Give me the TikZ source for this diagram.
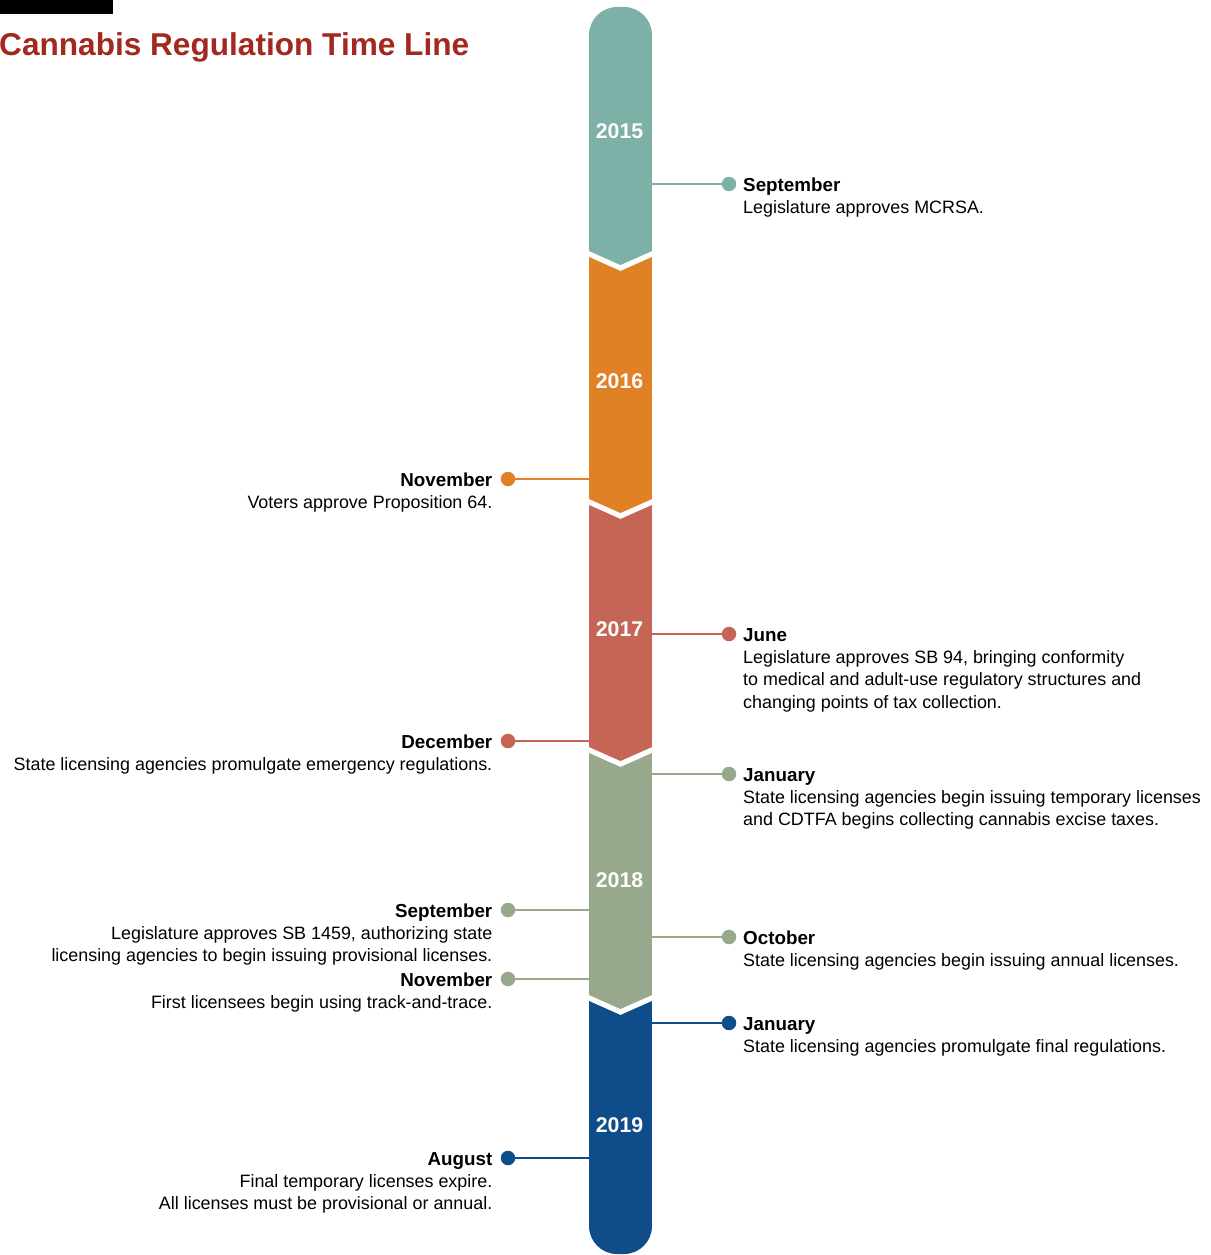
\documentclass[tikz,border=0pt]{standalone}
\usepackage{fontspec}
\setmainfont{Liberation Sans}
\definecolor{cteal}{HTML}{7DB1A8}
\definecolor{corange}{HTML}{E08126}
\definecolor{cred}{HTML}{C46556}
\definecolor{cgreen}{HTML}{98A88C}
\definecolor{cblue}{HTML}{0F4D8A}
\definecolor{ctitle}{HTML}{A3281F}
\newcommand{\mon}[1]{{\fontsize{18.8}{22.4}\selectfont\bfseries #1}}
\begin{document}
\begin{tikzpicture}[x=1pt,y=-1pt,
  yearlbl/.style={text=white,font=\fontsize{21.3}{24}\selectfont\bfseries,inner sep=0pt},
  evdot/.style={circle,fill=#1,inner sep=0pt,minimum size=14.5pt},
  evline/.style={draw=#1,line width=2.5pt},
  evtextR/.style={anchor=base west,inner sep=0pt,font=\fontsize{17.9}{22.4}\selectfont},
  evtextL/.style={anchor=base east,inner sep=0pt,font=\fontsize{17.9}{22.4}\selectfont}]
\useasboundingbox (0,0) rectangle (1210,1255);
% header box and title
\fill[black] (0,0) rectangle (113,14);
\node[anchor=base west,inner sep=0pt,text=ctitle,font=\fontsize{31.6}{36}\selectfont\bfseries] (title) at (-1,56) {Cannabis Regulation Time Line};
% bar
\begin{scope}
\path[clip,rounded corners=28pt] (589,7) rectangle (652,1254);
\fill[cteal] (589,0) -- (652,0) -- (652,251) -- (620.5,265) -- (589,251) -- cycle;
\fill[corange] (589,257) -- (620.5,271) -- (652,257) -- (652,499) -- (620.5,513) -- (589,499) -- cycle;
\fill[cred] (589,505) -- (620.5,519) -- (652,505) -- (652,747) -- (620.5,761) -- (589,747) -- cycle;
\fill[cgreen] (589,753) -- (620.5,767) -- (652,753) -- (652,995) -- (620.5,1009) -- (589,995) -- cycle;
\fill[cblue] (589,1001) -- (620.5,1015) -- (652,1001) -- (652,1260) -- (589,1260) -- cycle;
\end{scope}
\node[yearlbl] (y2015) at (619.5,131) {2015};
\node[yearlbl] (y2016) at (619.5,381) {2016};
\node[yearlbl] (y2017) at (619.5,629) {2017};
\node[yearlbl] (y2018) at (619.5,880) {2018};
\node[yearlbl] (y2019) at (619.5,1125) {2019};
% right events
\coordinate (b1) at (652,184);
\node[evdot=cteal] (d1) at (729,184) {};
\draw[evline=cteal] (b1) -- (d1);
\node[evtextR] (t1) at (743,191) {\begin{tabular}[t]{@{}l@{}}\mon{September}\\Legislature approves MCRSA.\end{tabular}};

\coordinate (b2) at (652,634);
\node[evdot=cred] (d2) at (729,634) {};
\draw[evline=cred] (b2) -- (d2);
\node[evtextR] (t2) at (743,641) {\begin{tabular}[t]{@{}l@{}}\mon{June}\\Legislature approves SB 94, bringing conformity\\to medical and adult-use regulatory structures and\\changing points of tax collection.\end{tabular}};

\coordinate (b3) at (652,774);
\node[evdot=cgreen] (d3) at (729,774) {};
\draw[evline=cgreen] (b3) -- (d3);
\node[evtextR] (t3) at (743,781) {\begin{tabular}[t]{@{}l@{}}\mon{January}\\State licensing agencies begin issuing temporary licenses\\and CDTFA begins collecting cannabis excise taxes.\end{tabular}};

\coordinate (b4) at (652,937);
\node[evdot=cgreen] (d4) at (729,937) {};
\draw[evline=cgreen] (b4) -- (d4);
\node[evtextR] (t4) at (743,944) {\begin{tabular}[t]{@{}l@{}}\mon{October}\\State licensing agencies begin issuing annual licenses.\end{tabular}};

\coordinate (b5) at (652,1023);
\node[evdot=cblue] (d5) at (729,1023) {};
\draw[evline=cblue] (b5) -- (d5);
\node[evtextR] (t5) at (743,1030) {\begin{tabular}[t]{@{}l@{}}\mon{January}\\State licensing agencies promulgate final regulations.\end{tabular}};
% left events
\coordinate (b6) at (589,479);
\node[evdot=corange] (d6) at (508,479) {};
\draw[evline=corange] (d6) -- (b6);
\node[evtextL] (t6) at (492.5,486) {\begin{tabular}[t]{@{}r@{}}\mon{November}\\Voters approve Proposition 64.\end{tabular}};

\coordinate (b7) at (589,741);
\node[evdot=cred] (d7) at (508,741) {};
\draw[evline=cred] (d7) -- (b7);
\node[evtextL] (t7) at (492.5,748) {\begin{tabular}[t]{@{}r@{}}\mon{December}\\State licensing agencies promulgate emergency regulations.\end{tabular}};

\coordinate (b8) at (589,910);
\node[evdot=cgreen] (d8) at (508,910) {};
\draw[evline=cgreen] (d8) -- (b8);
\node[evtextL] (t8) at (492.5,917) {\begin{tabular}[t]{@{}r@{}}\mon{September}\\Legislature approves SB 1459, authorizing state\\licensing agencies to begin issuing provisional licenses.\end{tabular}};

\coordinate (b9) at (589,979);
\node[evdot=cgreen] (d9) at (508,979) {};
\draw[evline=cgreen] (d9) -- (b9);
\node[evtextL] (t9) at (492.5,986) {\begin{tabular}[t]{@{}r@{}}\mon{November}\\First licensees begin using track-and-trace.\end{tabular}};

\coordinate (b10) at (589,1158);
\node[evdot=cblue] (d10) at (508,1158) {};
\draw[evline=cblue] (d10) -- (b10);
\node[evtextL] (t10) at (492.5,1165) {\begin{tabular}[t]{@{}r@{}}\mon{August}\\Final temporary licenses expire.\\All licenses must be provisional or annual.\end{tabular}};
\end{tikzpicture}
\end{document}
